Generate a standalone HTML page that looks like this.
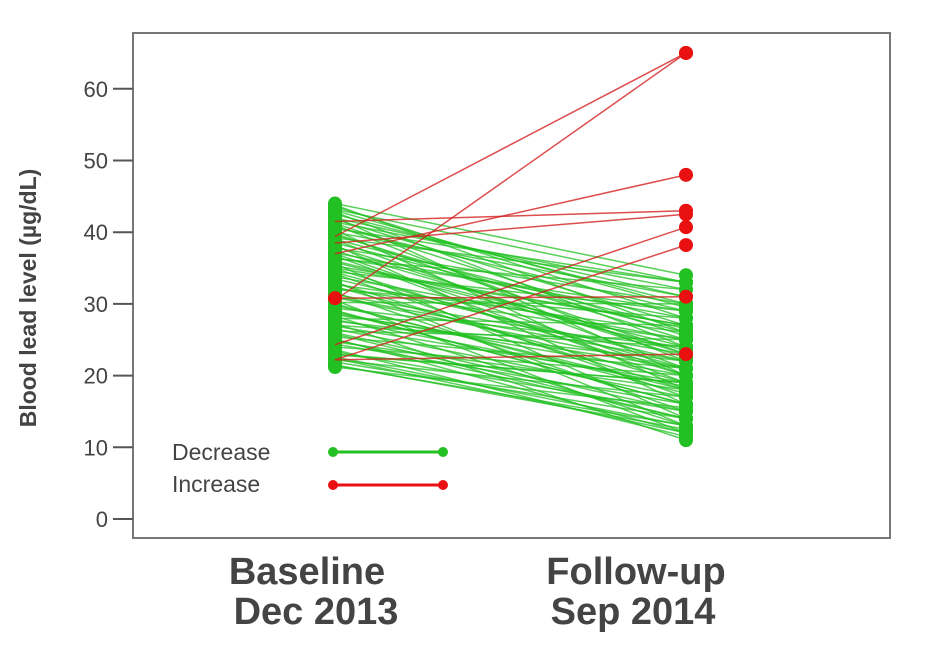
<!DOCTYPE html>
<html><head><meta charset="utf-8"><style>
body{margin:0;background:#fff;}
svg text{font-family:"Liberation Sans",Arial,sans-serif;}
</style></head><body>
<svg id="chart" width="950" height="642" viewBox="0 0 950 642" xmlns="http://www.w3.org/2000/svg">
<rect x="133" y="33" width="757" height="505" fill="none" stroke="#777" stroke-width="2"/>
<g id="axis"></g>
<g id="marks"></g>
<text transform="translate(36,298) rotate(-90)" text-anchor="middle" font-size="23" font-weight="bold" fill="#444">Blood lead level (µg/dL)</text>
<text x="307" y="584" text-anchor="middle" font-size="38" font-weight="bold" fill="#444">Baseline</text>
<text x="316" y="624" text-anchor="middle" font-size="38" font-weight="bold" fill="#444">Dec 2013</text>
<text x="636" y="584" text-anchor="middle" font-size="38" font-weight="bold" fill="#444">Follow-up</text>
<text x="633" y="624" text-anchor="middle" font-size="38" font-weight="bold" fill="#444">Sep 2014</text>
<g>
<text x="172" y="460" font-size="23" fill="#444">Decrease</text>
<line x1="333" y1="452" x2="443" y2="452" stroke="#22c022" stroke-width="3"/>
<circle cx="333" cy="452" r="5" fill="#22c022"/><circle cx="443" cy="452" r="5" fill="#22c022"/>
<text x="172" y="492" font-size="23" fill="#444">Increase</text>
<line x1="333" y1="485" x2="443" y2="485" stroke="#e81010" stroke-width="3"/>
<circle cx="333" cy="485" r="5" fill="#e81010"/><circle cx="443" cy="485" r="5" fill="#e81010"/>
</g>
</svg>
<script>
const yTicks=[0,10,20,30,40,50,60];
const greenBase=[44,43.6,43.2,42.8,42.5,42.1,41.8,41.4,41,40.7,40.3,40,39.6,39.2,38.9,38.5,38.2,37.8,37.4,37.1,36.7,36.3,36,35.6,35.3,34.9,34.5,34.2,33.8,33.5,33.1,32.7,32.4,32,31.6,31.3,30.9,30.5,30.2,29.8,29.4,29.1,28.7,28.3,28,27.6,27.3,26.9,26.5,26.2,25.8,25.4,25.1,24.7,24.4,24,23.6,23.3,22.9,22.6,22.2,21.9,21.5,21.2,43.8,42,39.8,37,35,33,31,29,27,25,23,21.4,40.5,36.4,32.2,28.5,43,41.2,38,34.4,30,26,22.4,39,35.8,27.8];
const greenFollow=[34,28,33,24,30,20,27,32,22,29,18,31,25,33,21,26,16,30,23,28,19,32,24,14,27,20,29,17,25,22,13,26,19,28,15,23,21,12,30,18,24,16,20,13,27,22,11,19,17,25,14,21,12,18,16,20,11.5,15,19,13,17,14,12.5,15.5,26,31,23,20,27,18,22,16,24,14,19,13,33,29,25,21,29.5,25.5,22.5,21,17.5,15,12,26.5,23.5,18.5];
const redBase=[39.4,30.5,37,41.5,38.5,24.3,22.2,30.8,22.2];
const redFollow=[65,65,48,43,42.5,40.7,38.2,31,23];
const X0=335,X1=686;
function yS(v){return 519-v*7.17;}
const NS='http://www.w3.org/2000/svg';
const ax=document.getElementById('axis'),mk=document.getElementById('marks');
yTicks.forEach(t=>{
 const l=document.createElementNS(NS,'line');
 
 
 l.setAttribute('x1',113);l.setAttribute('x2',133);l.setAttribute('y1',yS(t));l.setAttribute('y2',yS(t));
 l.setAttribute('stroke','#555');l.setAttribute('stroke-width','2');ax.appendChild(l);
 const tx=document.createElementNS(NS,'text');
 
 
 tx.setAttribute('x',108);tx.setAttribute('y',yS(t)+8);
 tx.setAttribute('text-anchor','end');tx.setAttribute('font-size','22');tx.setAttribute('fill','#444');
 tx.textContent=t;ax.appendChild(tx);
});
function pair(a,b,col,op,name){
 const l=document.createElementNS(NS,'line');
 
 
 l.setAttribute('x1',X0);l.setAttribute('x2',X1);l.setAttribute('y1',yS(a));l.setAttribute('y2',yS(b));
 l.setAttribute('stroke',col);l.setAttribute('stroke-opacity',op);l.setAttribute('stroke-width','1.5');mk.appendChild(l);
}
function dot(x,v,col,name){
 const c=document.createElementNS(NS,'circle');
 
 
 c.setAttribute('cx',x);c.setAttribute('cy',yS(v));c.setAttribute('r',7);c.setAttribute('fill',col);mk.appendChild(c);
}
greenBase.forEach((b,i)=>pair(b,greenFollow[i],'#22c022',0.75,'decrease-line'));
greenBase.forEach((b,i)=>{dot(X0,b,'#22c022','baseline-point');dot(X1,greenFollow[i],'#22c022','followup-point');});
redBase.forEach((b,i)=>pair(b,redFollow[i],'#d42020',0.8,'increase-line'));
redBase.forEach((b,i)=>dot(X1,redFollow[i],'#e81010','followup-increase-point'));
dot(X0,30.8,'#e81010','baseline-increase-point');
</script>
</body></html>
